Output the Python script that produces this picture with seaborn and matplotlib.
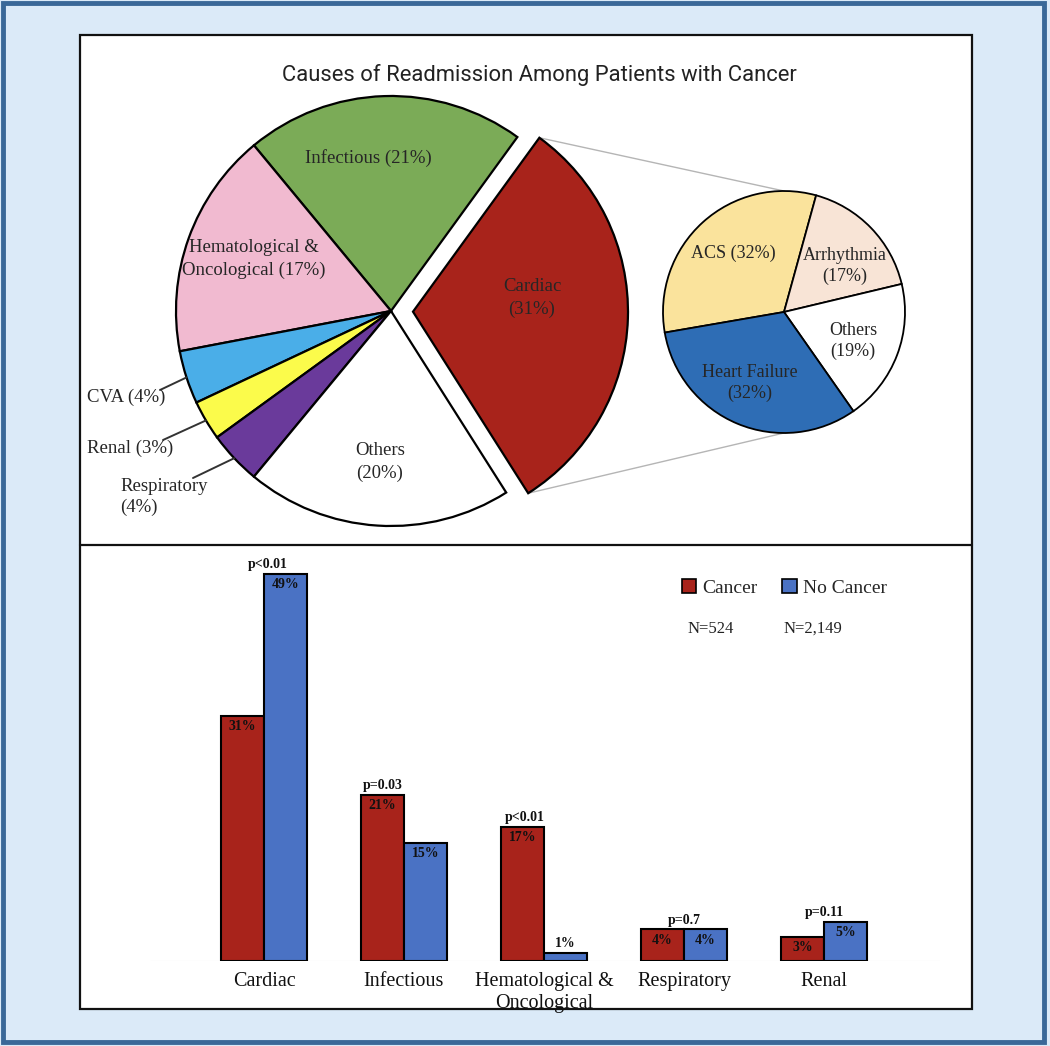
import matplotlib
matplotlib.use("Agg")
import matplotlib.pyplot as plt
import seaborn as sns
import numpy as np
import pandas as pd
from matplotlib.patches import Rectangle, Patch
from matplotlib.lines import Line2D

# ---------------- data ----------------
title = "Causes of Readmission Among Patients with Cancer"

pie_labels = ["Cardiac", "Infectious", "Hematological & Oncological", "CVA",
              "Renal", "Respiratory", "Others"]
pie_values = [31, 21, 17, 4, 3, 4, 20]
pie_colors = ["#a8231b", "#7bab57", "#f1bad0", "#4aaee8", "#fbfb4b", "#6a3a9b", "#ffffff"]

sub_labels = ["ACS", "Arrhythmia", "Others", "Heart Failure"]
sub_values = [32, 17, 19, 32]
sub_colors = ["#fae39c", "#f8e4d6", "#ffffff", "#2e6db5"]

bar_categories = ["Cardiac", "Infectious", "Hematological &\nOncological",
                  "Respiratory", "Renal"]
cancer_pct = [31, 21, 17, 4, 3]
nocancer_pct = [49, 15, 1, 4, 5]
p_values = ["p<0.01", "p=0.03", "p<0.01", "p=0.7", "p=0.11"]
groups = ["Cancer", "No Cancer"]
group_n = ["N=524", "N=2,149"]
group_colors = ["#a8231b", "#4a72c4"]

# ---------------- style ----------------
sns.set_theme(style="white")
plt.rcParams["font.family"] = ["Liberation Serif", "DejaVu Serif"]

W, H = 1050, 1046
fig = plt.figure(figsize=(W / 100, H / 100), dpi=100)
BG = "#dbeaf8"
fig.patch.set_facecolor(BG)


def fx(x):
    return x / W


def fy(y):
    return 1 - y / H


# panels
fig.add_artist(Rectangle((fx(80), fy(1009)), fx(972) - fx(80), fy(35) - fy(1009),
                         facecolor="white", edgecolor="none", zorder=-10,
                         transform=fig.transFigure))
fig.add_artist(Rectangle((fx(80), fy(1009)), fx(972) - fx(80), fy(35) - fy(1009),
                         fill=False, edgecolor="#111111", lw=1.6, zorder=10,
                         transform=fig.transFigure))
fig.add_artist(Line2D([fx(80), fx(972)], [fy(545), fy(545)], color="#111111", lw=1.6,
                      zorder=10, transform=fig.transFigure))
fig.add_artist(Rectangle((fx(3), fy(1042)), fx(1044) - fx(3), fy(3) - fy(1042),
                         fill=False, edgecolor="#3a6898", lw=3.5, zorder=10,
                         transform=fig.transFigure))

# ---------------- pies ----------------
ax1 = fig.add_axes([fx(80), fy(545), fx(972) - fx(80), fy(35) - fy(545)])
ax1.patch.set_alpha(0)

main_c = (391, 1046 - 311)
main_r = 215
explode = [22, 0, 0, 0, 0, 0, 0]
wedges, _ = ax1.pie(pie_values, colors=pie_colors, startangle=-57.6, explode=explode,
                    radius=main_r, center=main_c, counterclock=True,
                    wedgeprops=dict(edgecolor="black", linewidth=1.6))

sub_c = (784, 1046 - 312)
sub_r = 121
sub_wedges, _ = ax1.pie(sub_values, colors=sub_colors, startangle=189.8,
                        counterclock=False, radius=sub_r, center=sub_c,
                        wedgeprops=dict(edgecolor="black", linewidth=1.3))

ax1.set_xlim(80, 972)
ax1.set_ylim(1046 - 545, 1046 - 35)
ax1.set_aspect("auto")
ax1.axis("off")

# connector lines
cw = wedges[0]
ccx, ccy = cw.center
for th, ty in [(cw.theta2, sub_c[1] + sub_r), (cw.theta1, sub_c[1] - sub_r)]:
    px = ccx + cw.r * np.cos(np.radians(th))
    py = ccy + cw.r * np.sin(np.radians(th))
    ax1.plot([px, sub_c[0]], [py, ty], color="#b5b5b5", lw=1.0, zorder=0)

tc = "#262626"
fs = 13.5
# main pie labels (pixel positions)
ax1.text(368, 1046 - 158, f"{pie_labels[1]} ({pie_values[1]}%)", ha="center", va="center",
         fontsize=fs, color=tc)
ax1.text(254, 1046 - 259, f"Hematological &\nOncological ({pie_values[2]}%)", ha="center",
         va="center", fontsize=fs, color=tc, linespacing=1.4)
ax1.text(532, 1046 - 298, f"{pie_labels[0]}\n({pie_values[0]}%)", ha="center", va="center",
         fontsize=fs, color=tc, linespacing=1.4)
ax1.text(380, 1046 - 462, f"{pie_labels[6]}\n({pie_values[6]}%)", ha="center", va="center",
         fontsize=fs, color=tc, linespacing=1.4)

# outside labels with leader lines
outside = [(3, f"{pie_labels[3]} ({pie_values[3]}%)", (87, 397), (160, 390), "left"),
           (4, f"{pie_labels[4]} ({pie_values[4]}%)", (87, 448), (163, 440), "left"),
           (5, f"{pie_labels[5]}\n({pie_values[5]}%)", (120, 497), (193, 478), "left")]
for idx, txt, (tx, ty), (lx, ly), ha in outside:
    w = wedges[idx]
    thm = np.radians((w.theta1 + w.theta2) / 2)
    ex = w.center[0] + w.r * np.cos(thm)
    ey = w.center[1] + w.r * np.sin(thm)
    ax1.plot([lx, ex], [1046 - ly, ey], color="#333333", lw=1.4, zorder=5)
    ax1.text(tx, 1046 - ty, txt, ha=ha, va="center", fontsize=fs, color=tc,
             linespacing=1.35, zorder=6)

# sub pie labels
sfs = 13
ax1.text(733, 1046 - 253, f"{sub_labels[0]} ({sub_values[0]}%)", ha="center", va="center",
         fontsize=sfs, color=tc)
ax1.text(845, 1046 - 266, f"{sub_labels[1]}\n({sub_values[1]}%)", ha="center", va="center",
         fontsize=sfs, color=tc, linespacing=1.3)
ax1.text(853, 1046 - 341, f"{sub_labels[2]}\n({sub_values[2]}%)", ha="center", va="center",
         fontsize=sfs, color=tc, linespacing=1.3)
ax1.text(750, 1046 - 383, f"{sub_labels[3]}\n({sub_values[3]}%)", ha="center", va="center",
         fontsize=sfs, color=tc, linespacing=1.3)

fig.text(fx(539), fy(75), title, ha="center", va="center", family="Roboto",
         fontsize=15.8, color="#222222")

# ---------------- bars ----------------
ax2 = fig.add_axes([fx(150), fy(961), fx(940) - fx(150), fy(560) - fy(961)])
ax2.patch.set_alpha(0)
df = pd.DataFrame({
    "cause": bar_categories * 2,
    "group": [groups[0]] * len(bar_categories) + [groups[1]] * len(bar_categories),
    "pct": cancer_pct + nocancer_pct,
})
sns.barplot(data=df, x="cause", y="pct", hue="group", hue_order=groups,
            palette=group_colors, width=0.614, saturation=1, errorbar=None,
            edgecolor="black", linewidth=1.5, ax=ax2, legend=False)
ax2.set_xlim(-0.814, 4.829)
ax2.set_ylim(0, 50.8)
for s in ax2.spines.values():
    s.set_visible(False)
ax2.set_xlabel("")
ax2.set_ylabel("")
ax2.set_yticks([])
ax2.tick_params(axis="x", length=0, pad=8, labelsize=14.5, labelcolor="#111111")
for lbl in ax2.get_xticklabels():
    lbl.set_linespacing(1.2)
ax2.axhline(0, color="#e2e2e2", lw=0.8, zorder=0)

for cont, vals in zip(ax2.containers, [cancer_pct, nocancer_pct]):
    for rect, v in zip(cont, vals):
        xc = rect.get_x() + rect.get_width() / 2
        h = rect.get_height()
        if v >= 3:
            ax2.annotate(f"{v}%", (xc, h), xytext=(0, -3), textcoords="offset points",
                         ha="center", va="top", fontsize=10, fontweight="bold",
                         color="#111111")
        else:
            ax2.annotate(f"{v}%", (xc, h), xytext=(0, 2), textcoords="offset points",
                         ha="center", va="bottom", fontsize=10, fontweight="bold",
                         color="#111111")

p_off = [0.03, -0.15, -0.14, 0.0, 0.0]
for i, (p, c, n) in enumerate(zip(p_values, cancer_pct, nocancer_pct)):
    ax2.annotate(p, (i + p_off[i], max(c, n)), xytext=(0, 2), textcoords="offset points",
                 ha="center", va="bottom", fontsize=10, fontweight="bold",
                 color="#111111")

handles = [Patch(facecolor=c, edgecolor="black", lw=1.2, label=g)
           for g, c in zip(groups, group_colors)]
fig.legend(handles=handles, loc="center left", bbox_to_anchor=(fx(664), fy(588)),
           ncol=2, frameon=False, fontsize=14, handlelength=0.75, handleheight=0.75,
           handletextpad=0.3, columnspacing=1.3)
for xpos, n in zip([711, 813], group_n):
    fig.text(fx(xpos), fy(629), n, ha="center", va="center", fontsize=12,
             color="#222222")

fig.savefig("out.png", dpi=100, facecolor=BG)
